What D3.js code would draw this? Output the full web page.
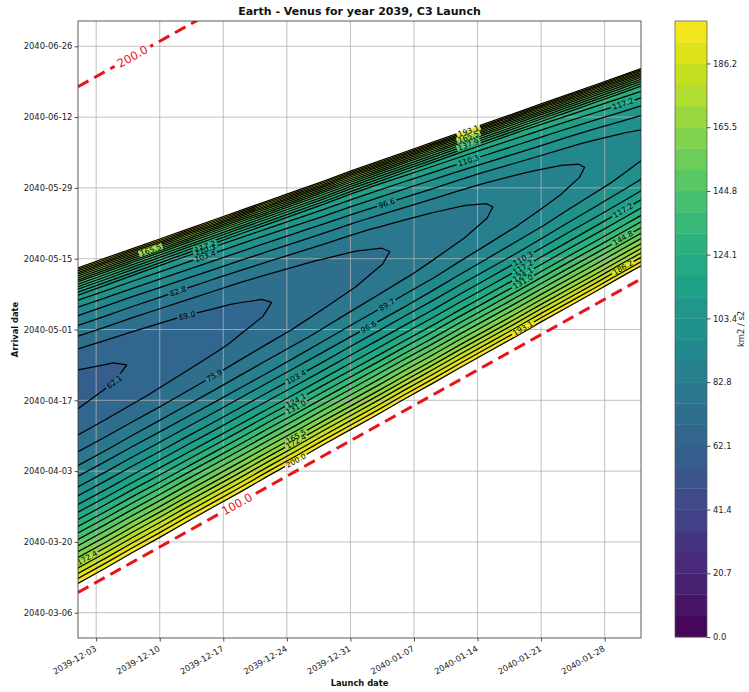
<!DOCTYPE html>
<html>
<head>
<meta charset="utf-8">
<script src="https://cdn.jsdelivr.net/npm/d3@7"></script>
<style>
  html, body { margin: 0; padding: 0; background: #fff; }
  svg text { font-family: "DejaVu Sans", "Liberation Sans", sans-serif; }
</style>
</head>
<body>
<svg id="chart" width="749" height="692"></svg>
<script>
// ---------------- data ----------------
// launch dates of the grid columns (every three days)
const launchDates = ["2039-12-01", "2039-12-04", "2039-12-07", "2039-12-10", "2039-12-13", "2039-12-16",
                     "2039-12-19", "2039-12-22", "2039-12-25", "2039-12-28", "2039-12-31", "2040-01-03",
                     "2040-01-06", "2040-01-09", "2040-01-12", "2040-01-15", "2040-01-18", "2040-01-21",
                     "2040-01-24", "2040-01-27", "2040-01-30", "2040-02-01"];
// time of flight (days) where C3 reaches 200 km2/s2 on the short-flight side
const shortEdgeTof = [101.8, 101.8, 101.9, 101.9, 102.0, 102.0, 102.0, 102.1, 102.1, 102.2, 102.2,
                      102.2, 102.3, 102.3, 102.4, 102.4, 102.4, 102.5, 102.5, 102.5, 102.6, 102.6];
// time of flight (days) of the C3 valley floor
const valleyTof    = [140.8, 140.1, 139.5, 138.8, 138.1, 137.4, 136.8, 136.1, 135.4, 134.7, 134.1,
                      133.4, 132.7, 132.0, 131.4, 130.7, 130.0, 129.3, 128.7, 128.0, 127.3, 126.9];
// C3 (km2/s2) along the valley floor
const valleyC3     = [60.1, 61.2, 62.3, 63.5, 64.7, 66.0, 67.4, 68.8, 70.3, 71.8, 73.4,
                      75.1, 76.8, 78.6, 80.4, 82.3, 84.3, 86.3, 88.4, 90.5, 92.7, 94.2];
// time of flight (days) where C3 reaches 200 km2/s2 on the long-flight side
const longEdgeTof  = [164.2, 163.1, 162.0, 160.9, 159.8, 158.7, 157.6, 156.5, 155.4, 154.3, 153.3,
                      152.2, 151.1, 150.0, 148.9, 147.8, 146.7, 145.6, 144.5, 143.4, 142.3, 141.6];

// cross-section rows: position between edge (0) and valley floor (1) on the short side,
// and the share of the climb from the valley floor up to 200 reached there
const shortSidePos  = [-0.04, 0, 0.04, 0.09, 0.15, 0.22, 0.30, 0.39, 0.49, 0.60, 0.70, 0.79, 0.87, 0.94];
const shortSideRise = [1.20, 1, 0.92, 0.83, 0.72, 0.61, 0.49, 0.37, 0.26, 0.16, 0.09, 0.044, 0.017, 0.0036];
// same on the long side: position between valley floor (0) and edge (1)
const longSidePos   = [0.07, 0.15, 0.23, 0.32, 0.45, 0.58, 0.68, 0.76, 0.82, 0.88, 0.94, 1, 1.03];
const longSideRise  = [0.004, 0.016, 0.035, 0.065, 0.125, 0.20, 0.27, 0.34, 0.46, 0.60, 0.78, 1, 1.30];

// contour levels (km2/s2)
const c3Levels = [0, 6.897, 13.793, 20.690, 27.586, 34.483, 41.379, 48.276, 55.172, 62.069,
                  68.966, 75.862, 82.759, 89.655, 96.552, 103.448, 110.345, 117.241, 124.138, 131.034,
                  137.931, 144.828, 151.724, 158.621, 165.517, 172.414, 179.310, 186.207, 193.103, 200];
const colorbarTicks = [0, 20.690, 41.379, 62.069, 82.759, 103.448, 124.138, 144.828, 165.517, 186.207];

const launchTicks  = ["2039-12-03", "2039-12-10", "2039-12-17", "2039-12-24", "2039-12-31",
                      "2040-01-07", "2040-01-14", "2040-01-21", "2040-01-28"];
const arrivalTicks = ["2040-03-06", "2040-03-20", "2040-04-03", "2040-04-17", "2040-05-01",
                      "2040-05-15", "2040-05-29", "2040-06-12", "2040-06-26"];
const arrivalWindow = ["2040-03-01", "2040-07-01"];

// time-of-flight reference lines (days) and the launch date where each is labelled
const flightTimes   = [100, 200];
const flightLabelAt = ["2039-12-18T12:00Z", "2039-12-07T00:00Z"];

// contour labels: level, launch date, side of the valley
const contourLabels = [
  [62.069, "2039-12-05", "short"],
  [75.862, "2039-12-16", "short"],
  [89.655, "2040-01-04", "short"],
  [96.552, "2040-01-02", "short"],
  [103.448, "2039-12-25", "short"],
  [124.138, "2039-12-25", "short"],
  [131.034, "2039-12-25", "short"],
  [165.517, "2039-12-25", "short"],
  [172.414, "2039-12-25", "short"],
  [200, "2039-12-25", "short"],
  [110.345, "2040-01-19", "short"],
  [117.241, "2040-01-19", "short"],
  [124.138, "2040-01-19", "short"],
  [131.034, "2040-01-19", "short"],
  [193.103, "2040-01-19", "short"],
  [117.241, "2040-01-30", "short"],
  [144.828, "2040-01-30", "short"],
  [186.207, "2040-01-30", "short"],
  [172.414, "2039-12-02", "short"],
  [68.966, "2039-12-13", "long"],
  [82.759, "2039-12-12", "long"],
  [96.552, "2040-01-04", "long"],
  [103.448, "2039-12-15", "long"],
  [110.345, "2039-12-15", "long"],
  [117.241, "2039-12-15", "long"],
  [165.517, "2039-12-09", "long"],
  [110.345, "2040-01-13", "long"],
  [137.931, "2040-01-13", "long"],
  [165.517, "2040-01-13", "long"],
  [193.103, "2040-01-13", "long"],
  [117.241, "2040-01-30", "long"]
];

// ---------------- layout ----------------
const svg = d3.select("#chart");
const plot = {x0: 78, x1: 641, y0: 21, y1: 638};
const cbar = {x0: 675, x1: 707, y0: 21, y1: 637};
const DAY = 864e5;
const when = s => new Date(s.length <= 10 ? s + "T00:00Z" : s);
const fmtDate = d3.utcFormat("%Y-%m-%d");
const fmt1 = d3.format(".1f");
const c3Top = c3Levels[c3Levels.length - 1];

const x = d3.scaleUtc().domain(d3.extent(launchDates, when)).range([plot.x0, plot.x1]);
const y = d3.scaleUtc().domain(arrivalWindow.map(when)).range([plot.y1, plot.y0]);
const color = v => d3.interpolateViridis(v / c3Top);

const defs = svg.append("defs");
defs.append("clipPath").attr("id", "plot-clip")
  .append("rect").attr("x", plot.x0).attr("y", plot.y0)
  .attr("width", plot.x1 - plot.x0).attr("height", plot.y1 - plot.y0);

// ---------------- grid of C3 values ----------------
const rows = [
  ...shortSidePos.map((p, k) => ({side: "short", pos: p, rise: shortSideRise[k]})),
  {side: "valley", pos: 0, rise: 0},
  ...longSidePos.map((p, k) => ({side: "long", pos: p, rise: longSideRise[k]}))
];
const n = launchDates.length, m = rows.length;
const launchT = launchDates.map(when);
const values = new Float64Array(n * m);
const vert = rows.map((r, j) => launchT.map((t, i) => {
  values[j * n + i] = valleyC3[i] + (c3Top - valleyC3[i]) * r.rise;
  const tof = r.side === "long"  ? valleyTof[i] + r.pos * (longEdgeTof[i] - valleyTof[i])
            : r.side === "short" ? shortEdgeTof[i] + r.pos * (valleyTof[i] - shortEdgeTof[i])
            : valleyTof[i];
  return [x(t), y(new Date(+t + tof * DAY))];
}));

// grid coordinates from d3.contours -> screen position (bilinear over the cell corners)
function toScreen(p) {
  const u = p[0] - 0.5, w = p[1] - 0.5;
  const i0 = Math.max(0, Math.min(n - 2, Math.floor(u)));
  const j0 = Math.max(0, Math.min(m - 2, Math.floor(w)));
  const fu = u - i0, fw = w - j0;
  const a = vert[j0][i0], b = vert[j0][i0 + 1], c = vert[j0 + 1][i0], d = vert[j0 + 1][i0 + 1];
  return [
    (1 - fu) * (1 - fw) * a[0] + fu * (1 - fw) * b[0] + (1 - fu) * fw * c[0] + fu * fw * d[0],
    (1 - fu) * (1 - fw) * a[1] + fu * (1 - fw) * b[1] + (1 - fu) * fw * c[1] + fu * fw * d[1]
  ];
}
const onBorder = p => p[0] <= 0 || p[0] >= n || p[1] <= 0 || p[1] >= m;

const contours = d3.contours().size([n, m]).thresholds(c3Levels)(values);

function areaPath(mp) {
  return mp.coordinates.map(poly => poly.map(ring =>
    "M" + ring.map(p => toScreen(p).map(v => v.toFixed(2)).join(",")).join("L") + "Z").join("")).join("");
}

// open line path of a level, leaving out the grid border
function linePath(mp, segs) {
  let d = "";
  for (const poly of mp.coordinates) for (const ring of poly) {
    let pen = false;
    for (let q = 1; q < ring.length; q++) {
      const a = ring[q - 1], b = ring[q];
      if (onBorder(a) && onBorder(b)) { pen = false; continue; }
      const sa = toScreen(a), sb = toScreen(b);
      if (!pen) d += "M" + sa[0].toFixed(2) + "," + sa[1].toFixed(2);
      d += "L" + sb[0].toFixed(2) + "," + sb[1].toFixed(2);
      pen = true;
      segs.push([sa, sb]);
    }
  }
  return d;
}

// ---------------- filled bands ----------------
const fills = svg.append("g").attr("clip-path", "url(#plot-clip)");
for (let k = 0; k < contours.length - 1; k++) {
  const d = areaPath(contours[k]) + areaPath(contours[k + 1]);
  if (!d) continue;
  fills.append("path").attr("d", d).attr("fill-rule", "evenodd")
    .attr("fill", color((c3Levels[k] + c3Levels[k + 1]) / 2))
    .attr("stroke", "none");
}

// ---------------- grid lines ----------------
const grid = svg.append("g").attr("stroke", "#b0b0b0").attr("stroke-width", 0.8);
launchTicks.forEach(s => grid.append("line")
  .attr("x1", x(when(s))).attr("x2", x(when(s))).attr("y1", plot.y0).attr("y2", plot.y1));
arrivalTicks.forEach(s => grid.append("line")
  .attr("y1", y(when(s))).attr("y2", y(when(s))).attr("x1", plot.x0).attr("x2", plot.x1));

// ---------------- contour lines ----------------
const labelMask = defs.append("mask").attr("id", "clabel-mask")
  .attr("maskUnits", "userSpaceOnUse").attr("x", 0).attr("y", 0).attr("width", 749).attr("height", 692);
labelMask.append("rect").attr("width", 749).attr("height", 692).attr("fill", "#fff");

const linesOuter = svg.append("g").attr("clip-path", "url(#plot-clip)");
const lines = linesOuter.append("g").attr("mask", "url(#clabel-mask)");
const segsByLevel = new Map();
contours.forEach((c, k) => {
  if (k === 0) return;
  const segs = [];
  const d = linePath(c, segs);
  segsByLevel.set(k, segs);
  if (d) lines.append("path").attr("d", d).attr("fill", "none")
    .attr("stroke", "#000").attr("stroke-width", 1.25).attr("stroke-linejoin", "round");
});

// ---------------- contour labels ----------------
function crossing(segs, px, side) {
  let best = null;
  for (const [a, b] of segs) {
    if ((a[0] - px) * (b[0] - px) > 0 || a[0] === b[0]) continue;
    const f = (px - a[0]) / (b[0] - a[0]);
    const py = a[1] + f * (b[1] - a[1]);
    if (!best || (side === "short" ? py > best.y : py < best.y)) best = {x: px, y: py, a, b};
  }
  return best;
}
function uprightAngle(a, b) {
  let ang = Math.atan2(b[1] - a[1], b[0] - a[0]) * 180 / Math.PI;
  if (ang > 90) ang -= 180;
  if (ang < -90) ang += 180;
  return ang;
}

const labelsG = svg.append("g").attr("clip-path", "url(#plot-clip)");
contourLabels.forEach(([lv, date, side]) => {
  const k = c3Levels.findIndex(v => Math.abs(v - lv) < 0.05);
  const segs = segsByLevel.get(k);
  if (!segs) return;
  const hit = crossing(segs, x(when(date)), side);
  if (!hit) return;
  const ang = uprightAngle(hit.a, hit.b);
  const t = labelsG.append("text")
    .attr("transform", `translate(${hit.x},${hit.y}) rotate(${ang})`)
    .attr("text-anchor", "middle").attr("dy", "0.35em")
    .attr("font-size", 7.6).attr("fill", "#000")
    .text(fmt1(c3Levels[k]));
  const w = t.node().getComputedTextLength() + 3;
  labelMask.append("rect")
    .attr("transform", `translate(${hit.x},${hit.y}) rotate(${ang})`)
    .attr("x", -w / 2).attr("y", -3.2).attr("width", w).attr("height", 6.4).attr("fill", "#000");
});

// ---------------- time-of-flight lines ----------------
const tofMask = defs.append("mask").attr("id", "tof-mask")
  .attr("maskUnits", "userSpaceOnUse").attr("x", 0).attr("y", 0).attr("width", 749).attr("height", 692);
tofMask.append("rect").attr("width", 749).attr("height", 692).attr("fill", "#fff");
const tofOuter = svg.append("g").attr("clip-path", "url(#plot-clip)");
const tofLines = tofOuter.append("g").attr("mask", "url(#tof-mask)");
const tofLine = d3.line().x(d => x(d[0])).y(d => y(d[1]));
const tofRed = "#e8141c";
flightTimes.forEach((tof, idx) => {
  const pts = x.domain().map(t => [t, new Date(+t + tof * DAY)]);
  tofLines.append("path").attr("d", tofLine(pts)).attr("fill", "none")
    .attr("stroke", tofRed).attr("stroke-width", 3).attr("stroke-dasharray", "12,6.5");
  const lt = when(flightLabelAt[idx]);
  const lx = x(lt), ly = y(new Date(+lt + tof * DAY));
  const sp = pts.map(d => [x(d[0]), y(d[1])]);
  const ang = uprightAngle(sp[0], sp[1]);
  const t = tofOuter.append("text")
    .attr("transform", `translate(${lx},${ly}) rotate(${ang})`)
    .attr("text-anchor", "middle").attr("dy", "0.36em")
    .attr("font-size", 11.5).attr("fill", tofRed)
    .text(fmt1(tof));
  const w = t.node().getComputedTextLength() + 8;
  tofMask.append("rect").attr("transform", `translate(${lx},${ly}) rotate(${ang})`)
    .attr("x", -w / 2).attr("y", -6).attr("width", w).attr("height", 12).attr("fill", "#000");
});

// ---------------- axes ----------------
const axisColor = "#222";
const gx = svg.append("g").attr("transform", `translate(0,${plot.y1})`)
  .call(d3.axisBottom(x).tickValues(launchTicks.map(when)).tickFormat(fmtDate).tickSize(3.5));
gx.select(".domain").remove();
gx.attr("font-family", null);
gx.selectAll(".tick line").attr("stroke", axisColor).attr("stroke-width", 0.8);
gx.selectAll(".tick text")
  .attr("x", 0).attr("y", 0).attr("dy", 0)
  .attr("transform", "translate(0.5,12.3) rotate(-30)")
  .attr("text-anchor", "end").attr("font-size", 8.4).attr("fill", axisColor);

const gy = svg.append("g").attr("transform", `translate(${plot.x0},0)`)
  .call(d3.axisLeft(y).tickValues(arrivalTicks.map(when)).tickFormat(fmtDate).tickSize(3.5).tickPadding(2.2));
gy.select(".domain").remove();
gy.attr("font-family", null);
gy.selectAll(".tick line").attr("stroke", axisColor).attr("stroke-width", 0.8);
gy.selectAll(".tick text").attr("font-size", 8.4).attr("fill", axisColor);

svg.append("rect").attr("x", plot.x0).attr("y", plot.y0)
  .attr("width", plot.x1 - plot.x0).attr("height", plot.y1 - plot.y0)
  .attr("fill", "none").attr("stroke", "#333").attr("stroke-width", 0.8);

svg.append("text").attr("x", (plot.x0 + plot.x1) / 2).attr("y", 15)
  .attr("text-anchor", "middle").attr("font-size", 11).attr("font-weight", "bold").attr("fill", "#111")
  .text("Earth - Venus for year 2039, C3 Launch");
svg.append("text").attr("x", (plot.x0 + plot.x1) / 2).attr("y", 686)
  .attr("text-anchor", "middle").attr("font-size", 8.3).attr("font-weight", "bold").attr("fill", "#111")
  .text("Launch date");
svg.append("text").attr("transform", `translate(18,${(plot.y0 + plot.y1) / 2}) rotate(-90)`)
  .attr("text-anchor", "middle").attr("font-size", 8.3).attr("font-weight", "bold").attr("fill", "#111")
  .text("Arrival date");

// ---------------- colorbar ----------------
const cy = d3.scaleLinear().domain([0, c3Top]).range([cbar.y1, cbar.y0]);
const cb = svg.append("g");
for (let k = 0; k < c3Levels.length - 1; k++) {
  cb.append("rect").attr("x", cbar.x0).attr("width", cbar.x1 - cbar.x0)
    .attr("y", cy(c3Levels[k + 1])).attr("height", cy(c3Levels[k]) - cy(c3Levels[k + 1]) + 0.3)
    .attr("fill", color((c3Levels[k] + c3Levels[k + 1]) / 2));
}
cb.append("rect").attr("x", cbar.x0).attr("y", cbar.y0)
  .attr("width", cbar.x1 - cbar.x0).attr("height", cbar.y1 - cbar.y0)
  .attr("fill", "none").attr("stroke", "#555").attr("stroke-width", 0.7);
const gc = svg.append("g").attr("transform", `translate(${cbar.x1},0)`)
  .call(d3.axisRight(cy).tickValues(colorbarTicks).tickFormat(fmt1).tickSize(3.5).tickPadding(2.5));
gc.select(".domain").remove();
gc.attr("font-family", null);
gc.selectAll(".tick line").attr("stroke", axisColor).attr("stroke-width", 0.8);
gc.selectAll(".tick text").attr("font-size", 8.4).attr("fill", axisColor);
svg.append("text").attr("transform", `translate(744,${(cbar.y0 + cbar.y1) / 2}) rotate(-90)`)
  .attr("text-anchor", "middle").attr("font-size", 8.4).attr("fill", axisColor)
  .text("km2 / s2");
</script>
</body>
</html>
